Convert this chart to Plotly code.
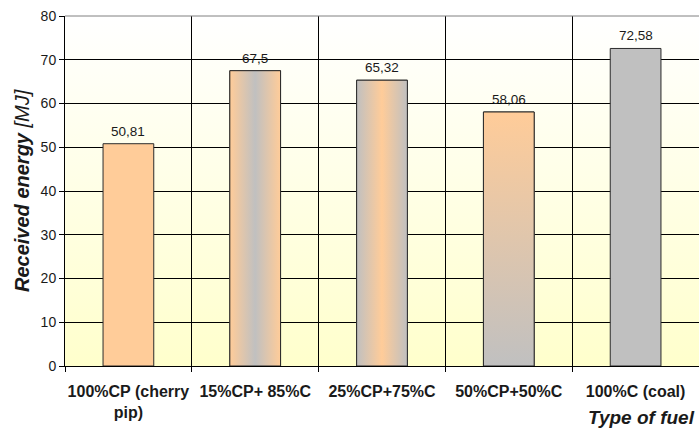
import base64
import plotly.graph_objects as go

categories = ["100%CP (cherry<br>pip)", "15%CP+ 85%C", "25%CP+75%C", "50%CP+50%C", "100%C (coal)"]
values = [50.81, 67.5, 65.32, 58.06, 72.58]
y_ticks = [0, 10, 20, 30, 40, 50, 60, 70, 80]

ORANGE = "#FFCC99"
GRAY = "#C0C0C0"
OUTLINE = "#2b2b2b"
BAR_W = 0.4
FONT = "Liberation Sans, Arial, sans-serif"

# base fill per bar and optional gradient overlay (styling)
base_colors = [ORANGE, ORANGE, GRAY, ORANGE, GRAY]
gradients = [
    None,
    dict(type="horizontal", colorscale=[[0, ORANGE], [0.5, GRAY], [1, ORANGE]]),
    dict(type="horizontal", colorscale=[[0, GRAY], [0.5, ORANGE], [1, GRAY]]),
    dict(type="vertical", colorscale=[[0, GRAY], [1, ORANGE]]),
    None,
]

xs = list(range(len(categories)))
fig = go.Figure()
fig.add_trace(go.Bar(
    x=xs, y=values, width=BAR_W,
    marker=dict(color=base_colors, line=dict(color=OUTLINE, width=1)),
    hoverinfo="skip", showlegend=False,
))

for i, (v, g) in enumerate(zip(values, gradients)):
    if g is None:
        continue
    x0, x1 = i - BAR_W / 2, i + BAR_W / 2
    fg = dict(type=g["type"], colorscale=g["colorscale"])
    if g["type"] == "horizontal":
        fg.update(start=x0, stop=x1)
    else:
        fg.update(start=0, stop=v)
    fig.add_trace(go.Scatter(
        x=[x0, x1, x1, x0, x0], y=[0, 0, v, v, 0],
        mode="lines", fill="toself", fillgradient=fg,
        line=dict(color=OUTLINE, width=1),
        hoverinfo="skip", showlegend=False,
    ))

# value labels
for i, v in enumerate(values):
    fig.add_annotation(
        x=i, y=v, xref="x", yref="y", text=f"{v:g}".replace(".", ","),
        showarrow=False, yanchor="bottom", yshift=3,
        font=dict(family=FONT, size=13.5, color="#1a1a1a"),
    )

svg = ('<svg xmlns="http://www.w3.org/2000/svg" width="100" height="100" viewBox="0 0 100 100" '
       'preserveAspectRatio="none"><defs><linearGradient id="g" x1="0" y1="0" x2="0" y2="1">'
       '<stop offset="0" stop-color="#FFFFFF"/><stop offset="1" stop-color="#FFFFCC"/>'
       '</linearGradient></defs><rect width="100" height="100" fill="url(#g)"/></svg>')
bg_src = "data:image/svg+xml;base64," + base64.b64encode(svg.encode()).decode()

fig.update_layout(
    width=699, height=430,
    margin=dict(l=65, r=0, t=16, b=64),
    paper_bgcolor="white",
    plot_bgcolor="rgba(0,0,0,0)",
    font=dict(family=FONT, color="#1a1a1a"),
    images=[dict(source=bg_src, xref="paper", yref="paper", x=0, y=1,
                 sizex=1, sizey=1, xanchor="left", yanchor="top",
                 sizing="stretch", layer="below")],
    xaxis=dict(
        range=[-0.5, len(categories) - 0.5],
        tickmode="array", tickvals=xs, ticktext=categories,
        ticks="outside", ticklen=11, tickcolor="rgba(0,0,0,0)",
        tickfont=dict(family=FONT, size=16, color="#1a1a1a", weight="bold"),
        showgrid=False, zeroline=False,
        showline=True, linecolor="#000000", linewidth=1,
        minor=dict(tick0=-0.5, dtick=1, ticks="outside", ticklen=5,
                   tickcolor="#000000", showgrid=True, gridcolor="#000000", gridwidth=1),
        fixedrange=True,
    ),
    yaxis=dict(
        range=[0, 80], tickmode="array", tickvals=y_ticks,
        ticks="outside", ticklen=5, tickcolor="#000000",
        tickfont=dict(family=FONT, size=14, color="#1a1a1a"),
        showgrid=True, gridcolor="#000000", gridwidth=1,
        zeroline=False, showline=True, linecolor="#000000", linewidth=1,
        fixedrange=True,
    ),
    shapes=[dict(type="line", xref="paper", yref="paper", x0=0, x1=1, y0=1, y1=1,
                 line=dict(color="#808080", width=1))],
    bargap=0.6,
)

fig.add_annotation(
    x=0, y=0.5, xref="paper", yref="paper", xshift=-43, yshift=0,
    text="<b>Received energy</b> [MJ]", textangle=-90, showarrow=False,
    xanchor="center", yanchor="middle",
    font=dict(family=FONT, size=20, color="#1a1a1a", style="italic"),
)
fig.add_annotation(
    x=1, y=0, xref="paper", yref="paper", xshift=-2, yshift=-51,
    text="<b>Type of fuel</b>", showarrow=False,
    xanchor="right", yanchor="middle",
    font=dict(family=FONT, size=19, color="#1a1a1a", style="italic"),
)

fig.write_html("out.html")
